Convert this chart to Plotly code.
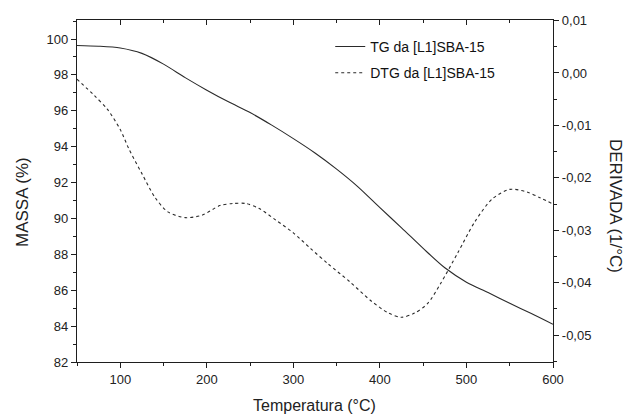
import plotly.graph_objects as go

# ---- data ----
tg_temp = [50, 75, 100, 125, 150, 175, 200, 225, 250, 275, 300, 325, 350, 375,
           400, 425, 450, 475, 500, 525, 550, 575, 600]
tg_mass = [99.64, 99.60, 99.50, 99.20, 98.60, 97.85, 97.15, 96.50, 95.90, 95.20,
           94.45, 93.65, 92.75, 91.75, 90.60, 89.48, 88.33, 87.25, 86.45, 85.87,
           85.27, 84.70, 84.10]

dtg_temp = [50, 70, 85, 100, 110, 125, 140, 155, 175, 195, 215, 230, 245, 260, 280,
            300, 320, 340, 365, 390, 410, 425, 440, 455, 470, 490, 510, 530, 550,
            570, 585, 600]
dtg_val = [-0.0012, -0.0043, -0.0069, -0.0108, -0.0145, -0.0192, -0.0237, -0.0265,
           -0.0276, -0.0271, -0.0253, -0.0249, -0.0249, -0.0258, -0.0281, -0.0305,
           -0.0335, -0.0364, -0.0398, -0.0435, -0.0458, -0.0466, -0.0458, -0.0440,
           -0.0402, -0.0343, -0.0283, -0.0240, -0.0222, -0.0227, -0.0238, -0.0250]

x_ticks = [100, 200, 300, 400, 500, 600]
left_ticks = [82, 84, 86, 88, 90, 92, 94, 96, 98, 100]
right_ticks = [0.01, 0.0, -0.01, -0.02, -0.03, -0.04, -0.05]
right_labels = ["0,01", "0,00", "-0,01", "-0,02", "-0,03", "-0,04", "-0,05"]

FONT = "Liberation Sans, Arial, sans-serif"
AX = "#1e1e1e"
L, T, W, H = 77, 20, 476, 342  # plot area in px

fig = go.Figure()
fig.add_trace(go.Scatter(
    x=tg_temp, y=tg_mass, mode="lines", name="TG da [L1]SBA-15",
    line=dict(color="#2a2a2a", width=1.1, shape="spline", smoothing=0.8),
    legendgroup="a", xaxis="x", yaxis="y"))
fig.add_trace(go.Scatter(
    x=dtg_temp, y=dtg_val, mode="lines", name="DTG da [L1]SBA-15",
    line=dict(color="#2a2a2a", width=1.1, dash="3px,3px", shape="spline", smoothing=0.8),
    legendgroup="b", xaxis="x", yaxis="y2"))
# invisible trace so the top axis renders
fig.add_trace(go.Scatter(x=[tg_temp[0]], y=[tg_mass[0]], xaxis="x2", yaxis="y", mode="markers",
                         marker=dict(opacity=0), showlegend=False, hoverinfo="skip"))

axis_common = dict(showgrid=False, zeroline=False, showline=True, linecolor=AX,
                   linewidth=1.4, tickcolor=AX, tickwidth=1, automargin=False,
                   tickfont=dict(family=FONT, size=13, color="#222"))

fig.update_layout(
    width=625, height=416,
    margin=dict(l=L, r=625 - L - W, t=T, b=416 - T - H),
    paper_bgcolor="white", plot_bgcolor="white",
    font=dict(family=FONT, color="#222"),
    showlegend=True,
    legend=dict(x=0.532, y=0.968, xanchor="left", yanchor="top",
                bgcolor="rgba(0,0,0,0)", borderwidth=0,
                font=dict(family=FONT, size=14, color="#111"),
                traceorder="grouped", tracegroupgap=5),
    xaxis=dict(range=[50, 600], tickvals=x_ticks, ticks="outside", ticklen=5,
               minor=dict(dtick=50, tick0=0, ticks="outside", ticklen=3, tickcolor=AX),
               **axis_common),
    xaxis2=dict(range=[50, 600], overlaying="x", side="top", tickvals=x_ticks,
                ticks="inside", ticklen=5, showticklabels=False,
                minor=dict(dtick=50, tick0=0, ticks="inside", ticklen=3, tickcolor=AX),
                **axis_common),
    yaxis=dict(range=[82, 101.06], tickvals=left_ticks, ticks="outside", ticklen=5,
               minor=dict(dtick=1, tick0=0, ticks="outside", ticklen=3, tickcolor=AX),
               **axis_common),
    yaxis2=dict(range=[-0.05513, 0.0101], overlaying="y", side="right",
                tickvals=right_ticks, ticktext=right_labels, ticks="outside", ticklen=5,
                minor=dict(dtick=0.005, tick0=0, ticks="outside", ticklen=3, tickcolor=AX),
                **axis_common),
    annotations=[
        dict(text="MASSA (%)", textangle=-90, xref="paper", yref="paper",
             x=(22 - L) / W, y=(T + H - 202) / H, xanchor="center", yanchor="middle",
             showarrow=False, font=dict(family=FONT, size=17, color="#222")),
        dict(text="DERIVADA (1/°C)", textangle=90, xref="paper", yref="paper",
             x=(616 - L) / W, y=(T + H - 206) / H, xanchor="center", yanchor="middle",
             showarrow=False, font=dict(family=FONT, size=17, color="#222")),
        dict(text="Temperatura (°C)", xref="paper", yref="paper",
             x=(314 - L) / W, y=(T + H - 395) / H, xanchor="center", yanchor="top",
             showarrow=False, font=dict(family=FONT, size=16, color="#222")),
    ],
)

fig.write_html("out.html")
